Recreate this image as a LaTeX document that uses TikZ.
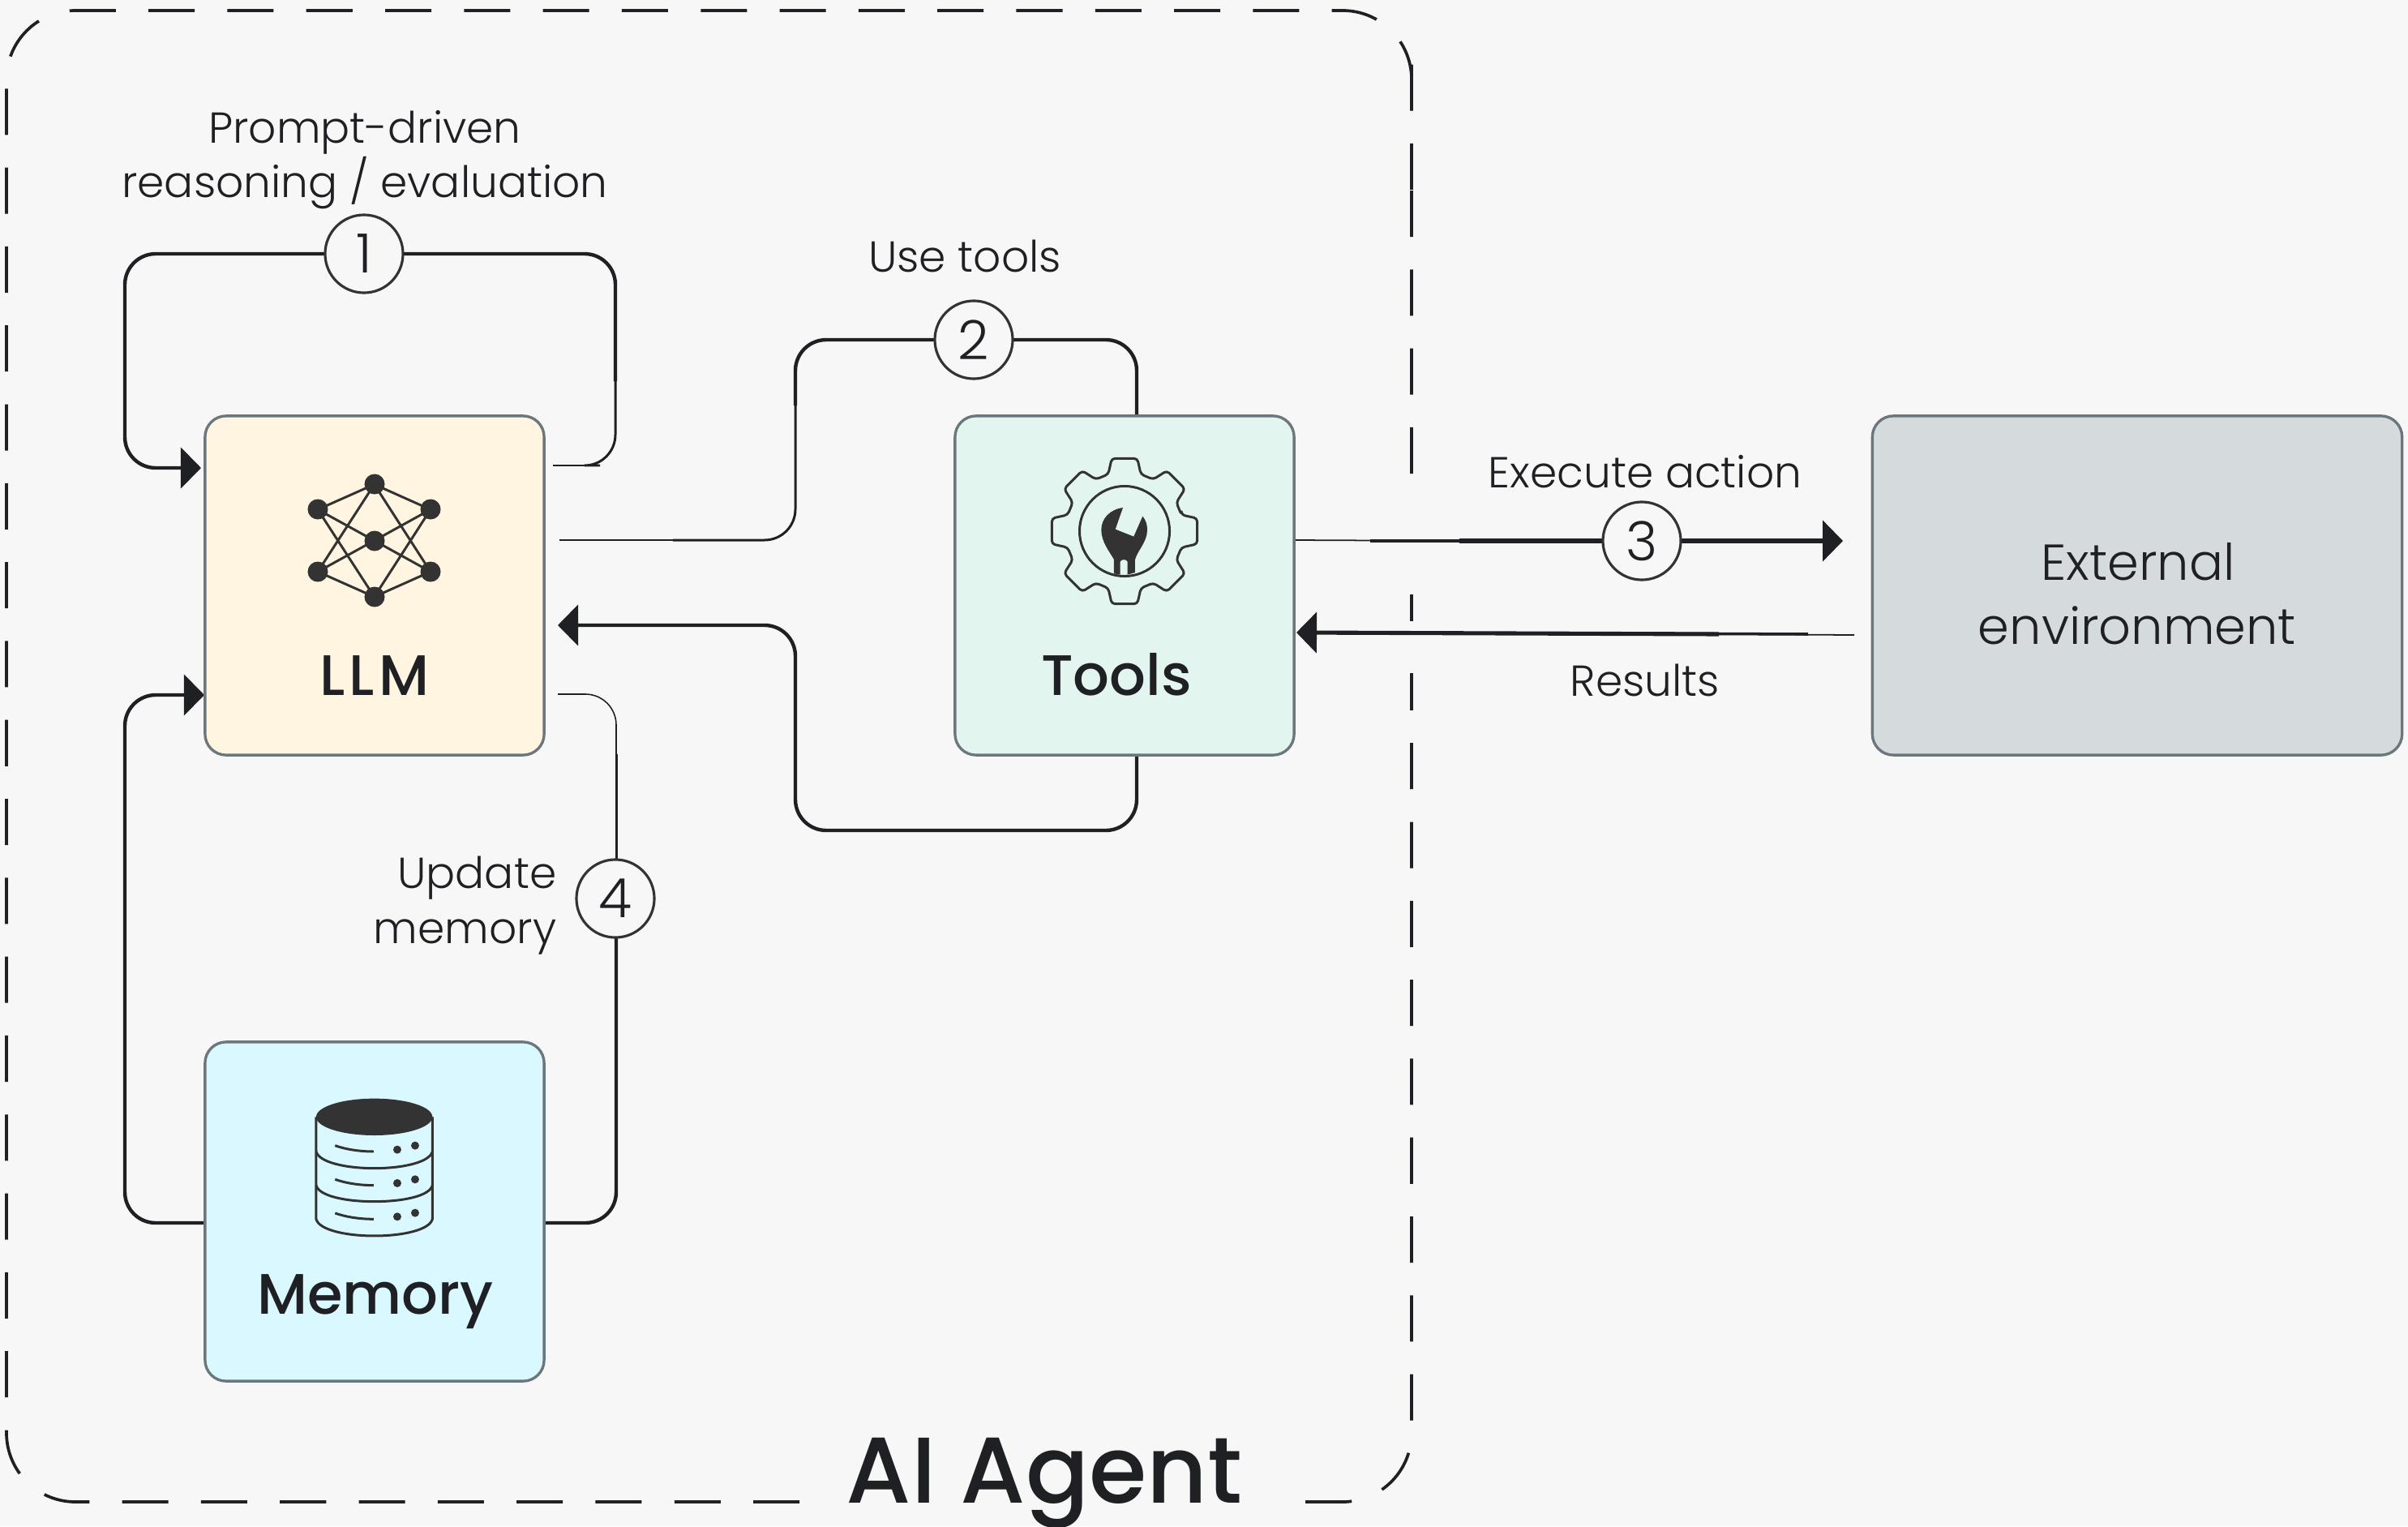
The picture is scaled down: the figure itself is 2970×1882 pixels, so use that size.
\documentclass[tikz,border=0pt]{standalone}
\usepackage{fontspec}
\setmainfont{Poppins}[UprightFont=*-Light,BoldFont=*-Medium]
\usetikzlibrary{arrows.meta,backgrounds,calc}
\definecolor{pagebg}{HTML}{F7F7F7}
\definecolor{inkc}{HTML}{1F2023}
\definecolor{iconc}{HTML}{333333}
\definecolor{edgec}{HTML}{6B777C}
\definecolor{llmc}{HTML}{FFF5E0}
\definecolor{toolc}{HTML}{E2F5EE}
\definecolor{memc}{HTML}{D9F8FF}
\definecolor{extc}{HTML}{D5DADD}
\newcommand{\fsz}[1]{\fontsize{#1}{#1}\selectfont}
\tikzset{
  boxn/.style={draw=edgec,line width=0.95pt,rounded corners=0.26cm,minimum width=4.18cm,minimum height=4.18cm,inner sep=0pt},
  lab/.style={anchor=base,inner sep=0pt,text=inkc,font=\fsz{15.2}},
  labr/.style={anchor=base east,inner sep=0pt,text=inkc,font=\fsz{15.2}},
  title/.style={anchor=base,inner sep=0pt,text=inkc,font=\bfseries\fsz{20}},
  bigt/.style={anchor=base,inner sep=0pt,text=inkc,font=\fsz{17.7}},
  numc/.style={circle,draw=iconc,line width=0.9pt,fill=pagebg,minimum size=0.96cm,inner sep=0pt,text=inkc,font=\fsz{19}},
  wthin/.style={draw=inkc,line width=0.45pt,rounded corners=0.38cm},
  wmid/.style={draw=inkc,line width=0.85pt,rounded corners=0.38cm},
  wmain/.style={draw=inkc,line width=1.25pt,rounded corners=0.38cm},
  tip/.style={-{Triangle[length=0.25cm,width=0.5cm]}},
  ic/.style={draw=iconc,line width=0.85pt},
}
\begin{document}
\begin{tikzpicture}[x=0.01cm,y=-0.01cm]
\useasboundingbox (0,0) rectangle (2970,1882);

% boxes
\node[boxn,fill=llmc]  (llm)   at (462,722) {};
\node[boxn,fill=toolc] (tools) at (1387,722) {};
\node[boxn,fill=memc]  (mem)   at (462,1494) {};
\node[boxn,fill=extc,minimum width=6.53cm] (ext) at (2636,722) {};

% labels
\node[title] (tllm) at (462,857) {\addfontfeature{LetterSpace=7}LLM};
\node[title] (ttools) at (1377,857) {Tools};
\node[title] (tmem) at (463,1620) {Memory};
\node[bigt] (ext1) at (2637,715) {External};
\node[bigt] (ext2) at (2636,794) {environment};
\node[lab] (l1a) at (450,177) {Prompt-driven};
\node[lab] (l1b) at (450,243) {reasoning / evaluation};
\node[lab] (l2) at (1190,335) {Use tools};
\node[lab] (l3) at (2029,601) {Execute action};
\node[lab] (l5) at (2029,858) {Results};
\node[labr] (l4a) at (687,1095) {Update};
\node[labr] (l4b) at (687,1163) {memory};
\node[anchor=base,inner sep=0pt,text=inkc,font=\bfseries\fsz{32.8},fill=pagebg,inner xsep=0.4cm,text depth=0.27cm,text height=0.85cm] (agent) at (1288,1853) {AI Agent};

% step markers
\node[numc] (n1) at (449,313) {1};
\node[numc] (n2) at (1201,419) {2};
\node[numc] (n3) at (2025,667) {3};
\node[numc] (n4) at (759,1108) {4};

% waypoints
\coordinate (a0) at (682,574);
\coordinate (a1) at (759,574);
\coordinate (a2) at (759,313);
\coordinate (a3) at (154,313);
\coordinate (a4) at (154,577);
\coordinate (a5) at (248,577);
\coordinate (b0) at (690,666);
\coordinate (b1) at (981,666);
\coordinate (b2) at (981,419);
\coordinate (b3) at (1402,419);
\coordinate (c1) at (1402,1024);
\coordinate (c2) at (981,1024);
\coordinate (c3) at (981,771);
\coordinate (c4) at (688,771);
\coordinate (d0) at (1597,666);
\coordinate (d1) at (2273,667);
\coordinate (e0) at (2287,783);
\coordinate (e1) at (1599,780);
\coordinate (f0) at (688,856);
\coordinate (f1) at (760,856);
\coordinate (f2) at (760,1508);
\coordinate (g1) at (154,1508);
\coordinate (g2) at (154,857);
\coordinate (g3) at (252,857);

\begin{scope}[on background layer]
\fill[pagebg] (0,0) rectangle (2970,1882);
% dashed frame
\draw[inkc,line width=1.05pt,rounded corners=0.85cm,dash pattern=on 0.57cm off 0.4025cm]
  (1741,150) -- (1741,1852) -- (8,1852) -- (8,13) -- (1741,13) -- cycle;
\fill[pagebg] (1725,596) rectangle (1757,733);
\fill[pagebg] (1725,766) rectangle (1757,830);

% connector 1: LLM self loop
\draw[wthin] (a0) -- (a1) -- (759,460);
\draw[wmid] (740,574) -- (a1) -- (759,380);
\draw[wmain] (759,470) -- (a2) -- (a3) -- (a4) -- (230,577);
\draw[draw=inkc,line width=1.25pt,tip] (200,577) -- (a5);
% connector 2: LLM to Tools
\draw[wthin] (b0) -- (b1) -- (981,560);
\draw[wmid] (830,666) -- (b1) -- (981,450);
\draw[wmain] (981,500) -- (b2) -- (b3) -- (b3 |- tools.north);
% connector 3: Tools to LLM
\draw[wmain,tip] (tools.south -| c1) -- (c1) -- (c2) -- (c3) -- (c4);
% connector 4: Tools to external
\draw[draw=inkc,line width=0.5pt] (d0) -- (1800,667);
\draw[draw=inkc,line width=1pt] (1690,667) -- (1880,667);
\draw[draw=inkc,line width=1.45pt,tip] (1800,667) -- (d1);
% connector 5: external to Tools
\draw[draw=inkc,line width=0.5pt] (e0) -- (2100,782);
\draw[draw=inkc,line width=1pt] (2230,782) -- (2000,781);
\draw[draw=inkc,line width=1.45pt,tip] (2120,782) -- (e1);
% connector 6: Memory to LLM (update)
\draw[wthin] (f0) -- (f1) -- (760,1060);
\draw[wmid] (760,930) -- (760,1180);
\draw[wmain] (760,1120) -- (f2) -- (f2 -| mem.east);
% connector 7: Memory to LLM (read)
\draw[wmain] (mem.west |- g1) -- (g1) -- (g2) -- (235,857);
\draw[draw=inkc,line width=1.25pt,tip] (200,857) -- (g3);
\end{scope}

% LLM icon
\begin{scope}[shift={(230,500)},scale=0.3333]
\coordinate (t) at (695,292);
\coordinate (tl) at (486,385);
\coordinate (tr) at (903,385);
\coordinate (m) at (695,500);
\coordinate (bl) at (486,615);
\coordinate (br) at (903,615);
\coordinate (bb) at (695,708);
\draw[ic] (t)--(tl) (t)--(tr) (t)--(bl) (t)--(br) (bb)--(tl) (bb)--(tr) (bb)--(bl) (bb)--(br) (m)--(tl) (m)--(tr) (m)--(bl) (m)--(br);
\end{scope}
\foreach \q/\w in {462/597,392/628,531/628,462/667,392/705,531/705,462/736}
  \fill[iconc] (\q,\w) circle (0.125cm);

% gear icon
\begin{scope}[shift={(1387,655)}]
\draw[ic,line join=round,rounded corners=0.04cm]
  (-16:73)
  \foreach \t in {0,45,...,315} { -- ({\t-16}:73) -- ({\t-10}:91) -- ({\t+10}:91) -- ({\t+16}:73) } -- cycle;
\draw[ic] (0,0) circle (0.555cm);
\end{scope}
\begin{scope}[shift={(1150,500)},scale=0.3333]
\fill[iconc,even odd rule] (705,378) .. controls (655,385) and (625,420) .. (625,460)
  .. controls (625,505) and (655,540) .. (672,570) -- (672,622) -- (695,626) -- (695,578)
  .. controls (697,568) and (720,568) .. (722,578) -- (722,626) -- (750,618) -- (750,570)
  .. controls (760,535) and (795,505) .. (795,460) .. controls (795,440) and (790,425) .. (778,410)
  -- (745,485) -- (677,458) -- cycle;
\end{scope}

% database icon
\begin{scope}[shift={(230,1270)},scale=0.3333]
\draw[ic] (480,322) -- (480,700) .. controls (490,740) and (590,762) .. (695,762) .. controls (800,762) and (900,740) .. (910,700) -- (910,322);
\draw[ic] (480,450) .. controls (490,490) and (590,512) .. (695,512) .. controls (800,512) and (900,490) .. (910,450);
\draw[ic] (480,575) .. controls (490,615) and (590,635) .. (695,635) .. controls (800,635) and (900,615) .. (910,575);
\fill[iconc] (695,322) ellipse (2.15cm and 0.68cm);
\foreach \yy in {0,125,250} {
  \draw[ic] (550,{428+\yy}) .. controls (590,{442+\yy}) and (640,{450+\yy}) .. (693,{450+\yy});
}
\foreach \q/\w in {780/443,846/428,780/567,846/553,780/691,846/677}
  \fill[iconc] (\q,\w) circle (0.15cm);
\end{scope}
\end{tikzpicture}
\end{document}
